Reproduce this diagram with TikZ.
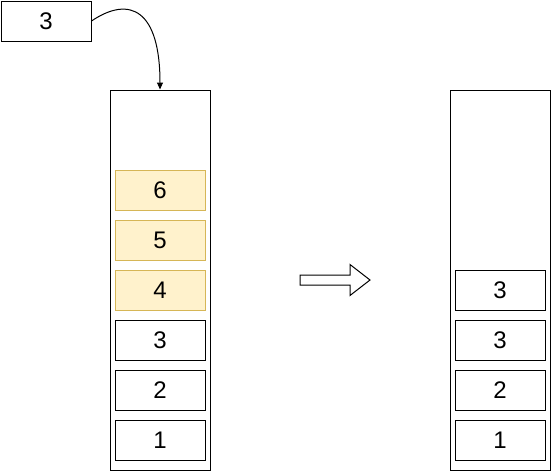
\documentclass[tikz,border=0pt]{standalone}
\usepackage{fontspec}
\setmainfont{Liberation Sans}
\usetikzlibrary{arrows.meta,calc}
\definecolor{yfill}{HTML}{FFF2CC}
\definecolor{ydraw}{HTML}{D6B656}
\begin{document}
\begin{tikzpicture}[x=1pt,y=-1pt,
  cell/.style={draw=black, line width=1pt, minimum width=90pt, minimum height=40pt, inner sep=0pt, font=\fontsize{24}{28}\selectfont},
  ycell/.style={cell, draw=ydraw, fill=yfill},
  container/.style={draw=black, line width=1pt, minimum width=100pt, minimum height=380pt, inner sep=0pt}]
\useasboundingbox (0,0) rectangle (551,471);
% top box
\node[cell, anchor=north west] (top) at (0.5,0.5) {3};
% containers
\node[container] (L) at (160,280) {};
\node[container] (R) at (500,280) {};
% left stack
\node[ycell] (l6) at (160,190) {6};
\node[ycell] (l5) at (160,240) {5};
\node[ycell] (l4) at (160,290) {4};
\node[cell] (l3) at (160,340) {3};
\node[cell] (l2) at (160,390) {2};
\node[cell] (l1) at (160,440) {1};
% right stack
\node[cell] (r4) at (500,290) {3};
\node[cell] (r3) at (500,340) {3};
\node[cell] (r2) at (500,390) {2};
\node[cell] (r1) at (500,440) {1};
% curved arrow
\coordinate (tgt) at (L.north);
\draw[line width=1pt, -{Triangle[length=7pt,width=6pt]}] (top.east) .. controls (130,-5) and (160,10) .. (tgt);
% block arrow
\coordinate (ba) at (300,280);
\draw[line width=1pt, fill=white] ($(ba)+(0,-5)$) -- ++(50,0) -- ++(0,-10.5) -- ++(20,15.5) -- ++(-20,15.5) -- ++(0,-10.5) -- ++(-50,0) -- cycle;
\end{tikzpicture}
\end{document}
